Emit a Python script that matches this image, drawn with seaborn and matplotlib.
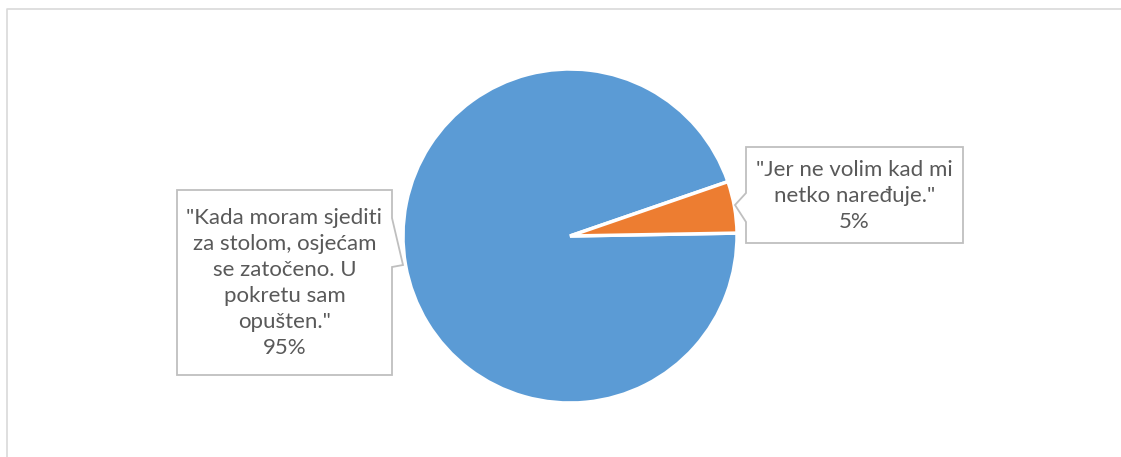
import matplotlib
matplotlib.use("Agg")
import matplotlib.pyplot as plt
from matplotlib.patches import Polygon
import seaborn as sns

# answers and how many times each was given (share of respondents)
labels = ['"Kada moram sjediti\nza stolom, osjećam\nse zatočeno. U\npokretu sam\nopušten."',
          '"Jer ne volim kad mi\nnetko naređuje."']
values = [95, 5]
colors = ["#5B9BD5", "#ED7D31"]

sns.set_theme(style="white")
plt.rcParams['font.family'] = ['Lato', 'DejaVu Sans']

W, H = 1121, 457
fig = plt.figure(figsize=(W / 100, H / 100), dpi=100)
ax = fig.add_axes([0, 0, 1, 1])
ax.set_aspect("equal")

# pie drawn in pixel-like coords (y flipped, so counterclock appears clockwise)
wedges, _ = ax.pie(values, colors=colors, center=(570, 236), radius=167,
                   startangle=-1, counterclock=True, explode=[0, 0.06],
                   wedgeprops=dict(edgecolor="white", linewidth=2.5),
                   frame=True)
ax.set_xlim(0, W)
ax.set_ylim(H, 0)
ax.axis("off")

# chart area border (only top/left visible in the crop)
ax.plot([7, 7, W + 5], [H + 5, 9, 9], color="#D9D9D9", lw=1.2, clip_on=False)

total = sum(values)
texts = [f"{lab}\n{v / total:.0%}" for lab, v in zip(labels, values)]

# callout shapes
left_box = [(177, 190), (392, 190), (392, 218), (403, 265), (392, 267),
            (392, 375), (177, 375)]
right_box = [(746, 147), (963, 147), (963, 243), (746, 243), (746, 222),
             (735, 205), (746, 193)]
for pts in (left_box, right_box):
    ax.add_patch(Polygon(pts, closed=True, facecolor="white",
                         edgecolor="#BFBFBF", lw=1.3, zorder=3))

ax.text(284.5, 283, texts[0], ha="center", va="center", fontsize=16,
        color="#595959", linespacing=1.38, zorder=4)
ax.text(854.5, 196, texts[1], ha="center", va="center", fontsize=16,
        color="#595959", linespacing=1.38, zorder=4)

fig.savefig("out.png", dpi=100)
